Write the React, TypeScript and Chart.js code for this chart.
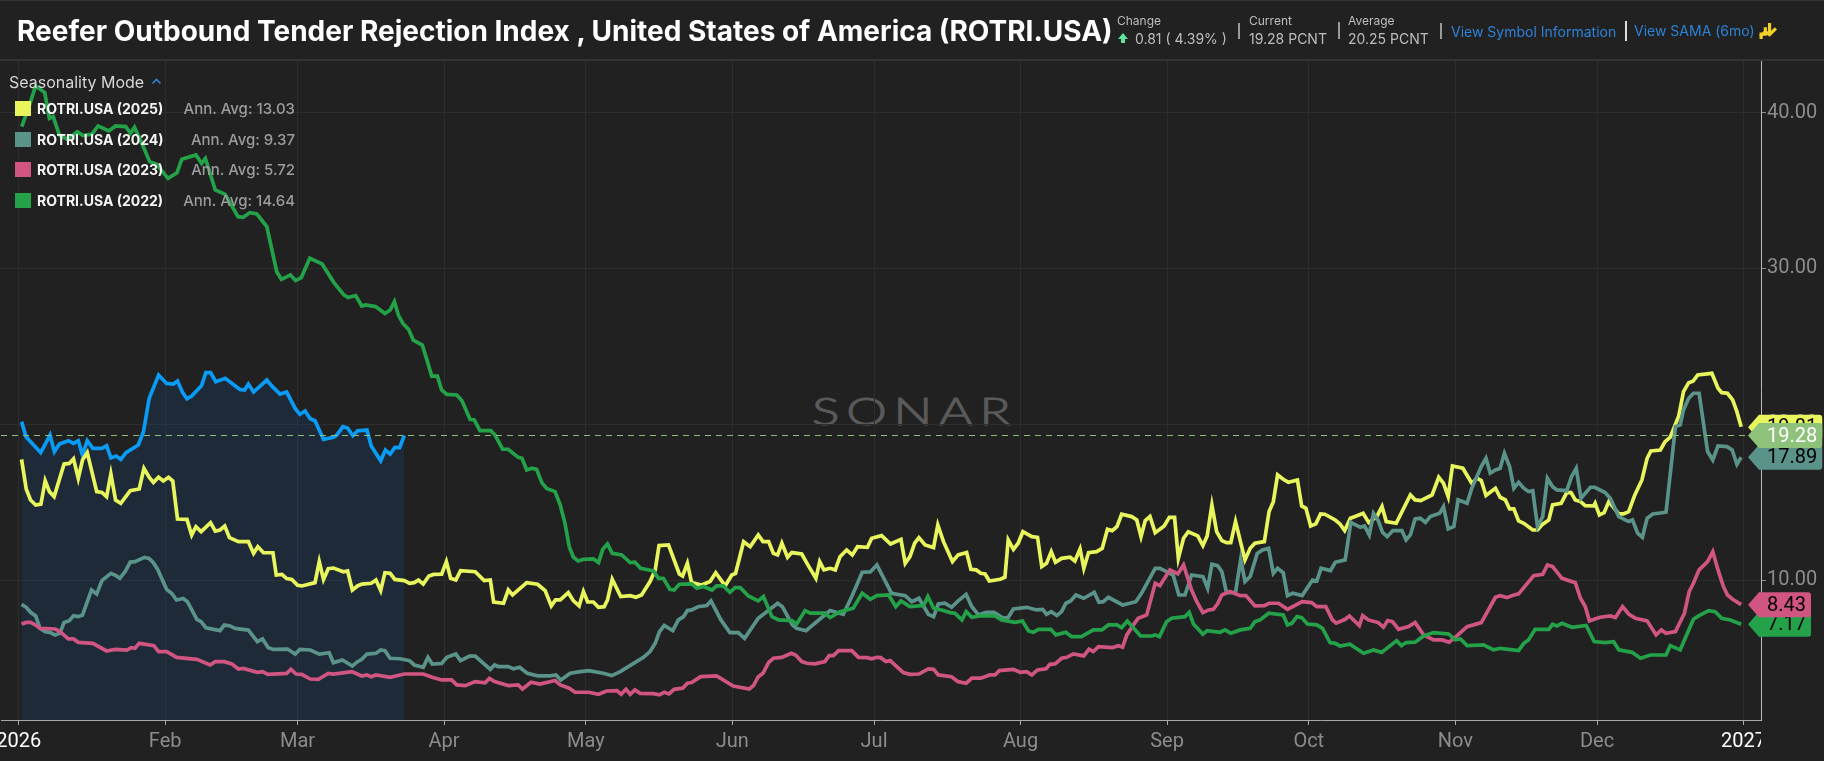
import React, { useEffect, useRef } from "react";
import { Chart, registerables } from "chart.js";

Chart.register(...registerables);

const monthDays = [0, 31, 59, 90, 120, 151, 181, 212, 243, 273, 304, 334, 365];
const monthLabels = ["2026", "Feb", "Mar", "Apr", "May", "Jun", "Jul", "Aug", "Sep", "Oct", "Nov", "Dec", "2027"];
const yTicks = [10, 20, 30, 40];

const days2026 = [0.6,1.55,4.66,6.63,7.55,8.6,10.5,11.6,12.6,13.5,14.5,15.7,17.6,18.6,19.5,20.6,21.6,22.7,25.3,26.4,27.6,29.6,31.3,32.7,33.6,34.7,35.6,36.6,38.7,39.6,40.6,41.7,43.7,46.8,47.8,48.6,49.7,52.5,53.5,55.3,56.7,58.5,59.5,60.6,61.7,62.7,64.5,66.6,67.3,68.6,69.6,70.7,71.7,73.7,74.6,76.6,77.6,78.6,79.6,80.6,81.6];
const values2026 = [20.17,19.2,18.18,19.31,18.24,18.73,18.95,18.78,18.95,18.03,18.95,18.46,18.46,18.63,17.84,17.96,17.75,18.18,18.67,19.52,21.66,23.16,22.62,22.58,22.77,22.03,21.64,21.81,22.48,23.31,23.31,22.73,22.95,22.24,22.2,22.58,22.07,22.84,22.48,21.94,22.07,21.02,20.64,20.85,20.36,20.23,19.03,19.16,19.31,19.85,19.76,19.27,19.59,19.63,18.6,17.66,18.35,18.09,18.52,18.5,19.28];

const days2025 = [0.6,1.6,2.5,3.6,4.7,5.6,6.5,7.5,9.6,10.7,11.6,12.6,13.5,14.5,16.5,17.6,18.6,19.5,20.5,21.6,23.6,25.5,26.5,27.6,28.5,29.6,30.6,31.7,32.6,33.6,35.6,36.6,37.5,38.6,40.6,41.6,42.6,43.6,44.6,46.5,48.6,49.7,50.6,51.8,53.8,54.5,55.7,56.7,57.8,59,59.9,62.7,63.6,64.5,65.5,66.6,68.7,69.6,70.6,71.7,72.6,74.6,75.6,76.6,77.5,78.6,79.6,81.6,82.7,83.7,84.6,85.6,86.8,87.8,89.5,90.5,91.4,92.5,93.5,96.6,98.5,99.8,100.5,102.6,103.6,104.5,107.5,109.8,111.4,112.7,113.6,114.6,116.3,117.4,118.6,119.5,120.4,121.6,122.7,123.9,124.6,125.6,127.4,129.4,130.6,131.8,133.6,134.7,135.5,137.5,139.8,140.5,141.5,142.4,144.5,146.3,147.5,149.5,150.9,151.7,153.4,154.8,156.5,157.5,158.7,159.7,160.6,161.5,162.7,163.6,165.7,167,168.7,169.5,170.4,171.7,172.8,173.8,175.2,176.4,177.5,179.6,180.5,182.6,184.5,186.7,187.6,188.6,189.6,190.5,191.8,193.6,194.5,195.7,197.6,198.8,200.6,201.5,202.6,203.6,204.5,205.4,207.7,208.7,209.4,210.5,211.5,212.5,214.4,215.6,216.5,217.5,218.5,219.4,220.7,222.5,223.5,224.6,225.4,226.4,228.1,229.3,230.4,231.4,232.4,233.4,235.5,236.6,237.5,238.4,239.4,240.5,242.4,243.5,244.6,245.4,246.5,247.5,249.5,250.6,251.5,252.5,253.5,254.6,255.6,256.5,257.5,259.5,260.6,261.6,263.6,264.6,265.5,266.4,267.6,268.7,270.6,271.5,272.4,273.4,274.5,275.5,276.4,278.6,279.6,280.6,281.8,282.8,284.5,285.7,287.4,288.5,289.4,291.5,294.5,295.5,296.7,299.1,300.5,301.5,302.5,303.4,305.6,307.5,308.6,309.5,310.5,312.5,313.5,314.6,315.5,316.4,317.4,318.5,320.4,321.4,322.3,323.8,324.6,326.4,327.6,328.5,329.4,330.5,331.5,333.3,333.6,334.5,335.5,336.5,338.6,339.6,340.7,342,343.5,344.6,345.4,347.4,348.4,349.5,351.3,352.3,353.4,354.3,355.3,358.3,359.6,360.4,361.6,362.7,363.6,364.5];
const values2025 = [17.75,15.83,15.14,14.82,14.88,16.38,15.68,15.36,17.45,17.49,17.79,16.53,17.71,18.18,15.68,15.63,15.36,16.81,15.14,14.93,15.74,15.85,17.17,16.6,16.27,16.6,16.36,16.6,16.36,13.92,13.9,12.9,13.43,13.11,13.69,13.15,13.22,13.47,12.73,12.47,12.47,11.72,12.15,11.76,11.76,10.33,10.37,10.1,10.05,9.67,9.63,9.84,11.19,10.05,10.74,10.78,10.54,10.59,9.37,9.63,9.75,9.8,10.01,9.33,10.48,10.44,10.05,9.97,9.8,9.84,10.01,9.75,10.27,10.37,10.39,11.19,10.12,10.01,10.61,10.54,9.97,10.01,8.6,8.52,9.37,9.05,9.84,9.74,9.33,8.35,8.73,8.73,9.2,8.67,8.35,9.27,8.6,8.6,8.26,8.3,8.73,10.06,8.95,9.01,8.9,9.05,9.91,10.66,12.22,12.26,10.4,10.27,11.08,9.84,9.69,9.91,10.48,9.63,10.33,10.44,12.47,12.15,12.9,12.47,12.47,11.72,11.62,12.37,11.47,11.77,11.68,10.98,10.12,11.19,10.66,10.76,10.66,11.51,11.94,11.62,12.15,12.11,12.69,12.86,12.32,12.62,11.08,11.51,12.37,12.73,12.26,12.09,13.54,12.47,11.19,11.62,11.77,10.7,10.66,10.44,10.4,9.95,10.06,10.19,12.58,11.98,12.37,13.11,12.79,12.75,10.87,11.08,11.83,11.15,11.4,11.47,11.23,12,10.76,11.77,11.83,12.05,13.26,13.18,13.44,14.23,14.08,13.86,12.79,13.82,14.08,13.05,13.48,14.03,14.03,11.4,12.69,13.11,12.84,12.22,12.84,14.82,13.11,12.54,12.41,12.41,13.76,11.3,12.05,12.37,12.47,14.4,15.04,16.75,16.47,16.28,16.43,14.76,14.61,13.48,13.61,14.25,14.23,13.86,13.61,13.18,13.97,14.08,14.29,13.69,14.08,14.72,13.76,13.65,15.47,15.15,15.1,15.47,16.6,16.22,15.36,17.33,17.18,16.22,16.54,16.39,15.43,15.9,15.32,15.15,14.57,14.57,13.8,13.65,13.22,13.22,13.54,13.86,14.83,14.93,15.62,15.62,15.15,15.04,14.78,14.76,14.93,14.18,14.33,15.04,14.25,14.25,14.4,15.47,16.43,17.82,18.29,18.35,18.89,19.17,20.54,22.1,22.67,22.76,23.16,23.27,22.31,22.03,21.99,21.56,20.81,19.85];

const days2024 = [0.6,1.6,2.5,3.6,4.5,5.6,6.6,7.7,8.7,9.6,10.7,11.6,12.6,13.5,15.4,16.5,17.6,19.5,20.6,21.4,22.5,23.6,24.6,26.6,27.6,28.5,29.4,31.3,32.4,33.4,34.8,35.7,37.7,38.6,39.6,42.6,43.5,44.6,45.8,48.6,50.5,51.6,52.8,53.9,56.9,58.5,59.5,61.7,63.6,65.7,66.6,68.5,70.6,71.7,72.6,73.7,75.6,76.6,77.5,78.6,80.7,82.7,83.7,85.6,86.6,87.5,89.5,90.6,92.5,93.5,95.4,96.6,99.8,100.7,101.5,103.6,104.7,106,107.6,109.8,112.4,113.7,114.7,116.7,118.8,120.6,123.7,125.5,127.3,132.2,133.6,134.7,135.6,136.6,138.4,139.6,140.7,141.5,142.4,143.8,145.6,146.5,148.6,150.5,152.3,153.6,156.5,160.6,161.6,163.7,164.6,166.6,171.7,174.5,176.3,178.5,180.2,181.6,184.7,187.6,189,190.5,192.5,193.6,194.6,196,197.4,198.8,200.5,201.7,203.1,204.7,206.4,208.4,209.4,210.5,213.3,215.4,216.7,217.5,218.5,219.7,220.7,221.6,222.6,223.7,225.4,227.6,228.6,229.5,230.6,233.6,236.4,237.6,240.5,241.5,242.9,244.3,245.5,246.8,248.2,250.6,251.6,252.5,253.7,254.6,255.6,257.5,258.6,259.5,260.6,262.1,263.2,264.5,265.5,266.4,267.6,268.5,269.6,271.6,273.8,274.7,275.6,277.6,278.6,280.7,281.9,283.9,284.8,285.8,286.7,287.7,288.6,289.6,290.8,292.7,293.6,294.5,295.5,296.6,297.7,298.7,300.7,301.5,302.5,303.7,304.6,306.5,307.5,309.5,310.5,311.4,312.5,313.5,314.4,315.5,316.4,317.4,318.5,319.5,320.4,321.4,322.5,323.5,324.6,325.5,327.6,328.6,329.6,330.6,332.6,333.5,335.7,336.8,338.6,340.7,341.5,342.6,343.6,344.6,345.8,348.6,350.6,351.6,352.3,353.4,354.4,355.6,357.4,358.5,359.6,361.5,362.6,363.6,364.5];
const values2024 = [8.45,8.26,7.94,7.7,6.91,6.7,6.65,6.48,6.59,7.29,7.4,7.72,7.66,7.76,9.37,9.11,9.97,10.44,10.29,10.12,10.54,11.16,11.19,11.46,11.4,11.12,10.69,9.41,9.15,8.73,8.83,8.62,7.49,7.34,6.95,6.76,7.12,7.08,6.91,6.8,6.05,6.23,5.67,5.56,5.58,5.26,5.56,5.52,5.26,5.35,4.71,4.88,4.49,4.77,4.92,5.26,5.31,5.52,5.48,4.99,4.96,4.84,4.56,4.41,5.05,4.62,4.66,5.05,5.26,4.84,5.13,5.13,4.28,4.56,4.46,4.46,4.31,4.41,4.03,3.86,3.86,3.92,3.6,4.03,4.13,4.2,4.03,3.88,4.13,5.05,5.42,5.95,6.7,7.09,6.76,7.45,7.66,8.05,8.09,8.3,8.37,8.67,7.45,6.64,6.64,6.27,7.56,8.52,8.3,7.13,6.91,6.76,8.05,7.81,8.95,10.51,10.53,10.98,9.16,9.01,8.62,8.84,7.81,7.66,8.47,8.52,8.26,8.67,9.09,8.3,7.77,7.94,7.94,7.56,7.62,8.15,8.26,8.09,8.13,7.81,7.98,7.73,7.98,8.52,8.67,9.05,8.84,9.22,8.58,8.62,8.9,8.41,8.62,9.16,10.76,10.76,10.55,10.33,9.05,9.05,10.33,10.23,9.48,11.02,10.93,10.55,9.2,9.22,11.34,9.91,10.23,11.72,11.94,12.05,10.44,10.76,10.48,9.01,9.16,9.01,10.01,9.95,10.76,10.61,11.15,11.3,13.71,13.39,13.48,12.9,14.29,13.82,13.07,12.79,13.18,13.18,12.58,12.9,13.93,13.97,13.71,14.08,14.29,14.72,13.29,13.44,15.15,14.93,15.9,17.29,17.82,16.86,17.07,17.18,18.14,17.29,15.9,16.28,15.9,15.68,15.74,13.44,14.08,16.54,16,15.79,15.74,16.64,17.18,15.25,15.96,15.96,15.62,15.25,14.08,13.76,13.86,13.01,12.75,13.97,14.25,14.36,19.85,19.96,20.92,21.67,21.99,21.99,18.25,17.71,18.61,18.57,18.35,17.43,17.89];

const days2023 = [0.6,1.6,2.5,3.6,4.5,7.7,8.6,10.5,11.6,12.6,15.7,18.6,20.4,22.9,23.8,24.6,25.5,28.6,29.6,31.3,33.4,37.7,40.5,41.6,43.5,45.1,46.5,47.5,50.5,51.6,52.7,56.7,57.6,58.7,59.9,61.7,63.4,65.5,66.6,70.5,72.6,73.7,74.6,75.6,78.6,81.6,85.6,87.5,89.5,91.6,92.7,94.5,96.6,98.7,99.6,100.7,103.6,105.7,106.6,108.4,110.3,113.5,114.6,116.5,117.7,120.6,122.7,124.4,126.6,127.5,128.5,129.4,130.4,131.5,134.3,135.6,136.6,137.6,138.7,140.5,141.5,142.4,144.3,147.7,151.2,154.6,155.5,156.5,157.5,158.7,159.7,161.5,163.5,164.4,165.7,166.8,168.5,170.6,171.5,172.4,173.5,176.3,177.7,179.5,180.5,181.6,182.4,183.5,184.4,187.2,188.6,190.5,192.5,193.6,194.6,197.4,198.8,200.5,201.7,203.6,205.5,206.6,207.5,210.5,211.9,213.3,214.4,215.6,217.4,218.2,219.3,220.7,221.8,223.2,225.4,226.5,227.4,228.5,231.4,232.7,233.6,234.5,235.9,236.9,238.7,240.5,241.5,243.6,245.3,246.5,248.2,249.3,250.6,251.8,252.8,253.7,254.6,256.3,258.5,259.7,261.6,263.6,264.6,266.6,268.5,271.6,273.6,274.7,276.6,278,278.8,280.7,281.6,283.7,284.4,285.6,287.7,288.8,289.7,290.7,292,294.1,295.5,297.3,299.4,301.2,302.7,304.4,306.5,309.5,312.5,313.5,314.9,316.4,317.4,320.6,322.5,323.5,324.6,326.6,329.4,330.5,331.5,332.4,334.7,336.8,337.9,339.4,340.7,342.1,344.6,346.5,347.6,348.6,350.6,352.5,353.5,354.4,355.6,357.4,358.5,359.6,360.7,361.6,362.7,364.5];
const values2023 = [7.19,7.29,7.29,7.12,6.91,6.87,6.74,6.23,6.23,6.01,5.95,5.46,5.56,5.52,5.67,5.63,5.95,5.8,5.41,5.41,5.05,4.92,4.56,4.77,4.77,4.62,4.3,4.34,4.09,4.13,3.96,4.02,4.28,3.98,3.96,3.66,3.64,4.02,3.98,4.13,3.85,3.92,3.81,3.92,3.77,3.98,3.98,3.77,3.6,3.6,3.28,3.23,3.49,3.42,3.7,3.49,3.24,3.28,3.02,3.45,3.34,3.56,3.28,3.07,2.81,2.81,2.68,2.89,2.92,2.68,3,2.68,2.96,2.74,2.72,2.64,2.81,2.7,3,3.07,3.39,3.43,3.81,3.86,3.21,3.02,3.24,3.81,4.03,4.73,4.99,5.05,5.31,5.2,4.78,4.67,4.63,4.78,5.16,5.16,5.48,5.48,5.05,5.03,4.95,5.05,5.03,4.78,4.84,4.07,3.96,3.98,4.31,4.28,3.92,3.81,3.49,3.39,3.71,3.71,3.92,3.92,4.2,4.28,4.09,4.13,3.92,4.24,4.31,4.6,4.63,4.99,5.05,5.27,5.14,5.57,5.42,5.74,5.67,5.8,5.7,6.49,7.13,7.56,7.77,9.8,9.65,10.66,10.4,10.98,9.37,8.62,7.92,8.09,8.13,8.48,9.05,9.27,9.01,9.01,8.35,8.37,8.52,8.52,8.13,8.62,8.56,8.3,8.3,7.45,7.24,7.49,7.71,7.09,7.73,7.45,7.28,6.98,7.41,7.34,6.85,7.02,7.28,6.49,6.17,6.17,6.02,6.44,7.02,7.28,8.9,9.01,8.88,9.05,9.12,10.29,10.38,10.98,10.87,10.12,9.84,8.84,8.31,7.39,7.62,7.71,7.6,8.31,7.83,7.56,7.39,6.49,6.81,6.59,6.7,7.88,9.27,9.8,10.66,11.19,11.83,10.66,9.63,9.05,8.78,8.43];

const days2022 = [0.64,2.3,3.57,5.5,6.5,7.3,8.6,10.3,12.4,13.6,15.5,16.8,19.05,20.5,22.65,23.65,24.5,26.6,27.7,29.1,31.6,33.5,34.5,37.5,38.7,39.5,41.6,43.7,46.4,47.5,48.9,50.4,52.5,54.6,55.6,57.5,58.6,59.8,61.6,64.2,66.7,68.8,69.7,71.3,72.6,73.4,75.5,77.5,78.6,79.5,80.35,81.3,82.5,83.5,85.4,86.4,87.4,88.6,89.5,90.6,92.7,93.8,95.5,96.4,97.6,99.9,100.8,102.4,103.6,105.7,106.5,107.5,108.6,109.6,110.7,111.7,113.5,114.6,115.6,116.5,117.4,118.4,119.5,121.6,122.7,123.6,124.6,125.6,127.6,129.4,130.4,131.6,134.3,135.4,136.4,137.8,138.7,139.8,142.4,143.5,144.9,146.7,147.7,149.1,150.5,151.6,152.7,154.4,156.5,157.6,159.4,160.8,163.6,164.6,166.4,167.5,170.6,171.7,173.8,176.6,178.5,180.2,181.6,184.1,185.6,186.7,188.6,191.5,192.4,193.6,195.7,197.1,198.1,199.6,200.5,201.7,203.6,206.6,208,210.8,212.4,213.7,214.7,215.8,218.4,219.5,221.6,222.8,224.9,227.4,229.2,230.6,232.4,233.4,234.6,237.4,239.8,240.5,241.4,242.9,244,246.8,247.7,248.6,250.6,251.5,254.2,255.3,256.5,258.5,260.6,261.6,262.7,264.5,267.6,268.5,269.4,270.5,271.5,272.7,274.7,275.9,277.5,278.6,279.6,281.7,284.6,286.7,288.4,291.6,292.6,293.6,295.5,297.3,299.4,302.6,304,305.1,306.5,310,312.1,313.5,317.4,318.5,319.5,320.9,323.8,324.6,325.5,326.6,328.7,331.7,333.4,335.7,337.5,338.6,341.4,343.2,345.3,348.6,349.5,351.6,354.4,355.5,357.6,359,360.4,362.2,364.5];
const values2022 = [39.1,40.49,41.7,41.28,39.63,39.74,38.56,38.28,38.77,38.52,38.62,39.14,38.82,39.14,39.1,38.67,39.05,37.64,36.85,36.7,35.78,36.14,37,37.28,36.74,37.06,35.03,34.75,33.32,33.28,33.58,33.49,32.68,29.79,29.3,29.58,29.22,29.41,30.65,30.29,29.09,28.3,28.13,28.26,27.59,27.66,27.55,27.11,27.33,27.86,27.01,26.47,26.09,25.4,25.08,24.12,23.09,23.09,22.2,21.92,21.88,21.51,20.32,20.28,19.59,19.59,19.31,18.4,18.4,17.88,17.82,17.07,17.18,17.11,16.26,15.89,15.68,14.82,13.65,12.15,11.47,11.23,11.34,11.36,11.13,11.98,12.32,11.72,11.62,11.13,11.15,10.76,10.59,10.12,10.12,9.42,9.37,9.74,9.76,9.48,9.59,9.37,9.63,9.63,9.22,9.52,9.52,8.99,8.67,8.95,7.66,7.45,7.41,7.17,8.05,7.88,7.88,7.6,7.98,8.2,9.16,8.77,9.01,9.05,8.3,8.67,8.3,8.37,8.95,8.2,8.05,7.92,7.88,7.45,7.98,7.62,7.73,7.71,7.45,7.3,7.38,6.74,6.66,6.85,6.85,6.49,6.66,6.38,6.38,6.81,6.81,7.13,7.13,6.96,7.38,6.42,6.42,6.49,6.38,7.34,7.56,7.66,7.94,7.19,6.53,6.76,6.66,6.81,6.59,6.81,6.91,7.34,7.45,7.88,7.77,7.13,7.23,7.66,7.6,7.19,7.13,6.91,6,5.95,5.78,5.89,5.31,5.52,5.37,6.12,5.8,6,6.02,6.42,6.64,6.55,6.17,6.23,5.8,5.85,5.53,5.63,5.48,5.95,6.17,6.85,6.85,7.17,7.06,7.23,6.98,7.09,6.06,6,6.06,5.53,5.37,4.99,5.2,5.2,5.8,5.53,7.49,7.71,8.05,7.98,7.56,7.45,7.17];

const currentValue = 19.28;
const legendRows = [
  { name: "ROTRI.USA (2025)", avg: "Ann. Avg: 13.03", color: "#e9f55d" },
  { name: "ROTRI.USA (2024)", avg: "Ann. Avg: 9.37", color: "#5a9389" },
  { name: "ROTRI.USA (2023)", avg: "Ann. Avg: 5.72", color: "#d05583" },
  { name: "ROTRI.USA (2022)", avg: "Ann. Avg: 14.64", color: "#24a249" },
];
const tags = [
  { value: 7.17, color: "#24a249", text: "#000000" },
  { value: 8.43, color: "#d05583", text: "#000000" },
  { value: 19.81, color: "#e9f55d", text: "#000000" },
  { value: 17.89, color: "#5a9389", text: "#000000" },
  { value: 19.28, color: "#8ec27a", text: "#ffffff" },
];

const BG = "#212121";
const toPoints = (xs: number[], ys: number[]) => xs.map((x, i) => ({ x, y: ys[i] }));

const tagPlugin = {
  id: "sideTags",
  afterDraw(chart: any) {
    const { ctx, scales } = chart;
    const area = chart.chartArea;
    ctx.save();
    // clip the year label at the value axis, as in the original
    ctx.fillStyle = BG;
    ctx.fillRect(area.right, area.bottom + 1, 70, 45);
    ctx.font = "20px Roboto";
    ctx.textBaseline = "middle";
    ctx.textAlign = "left";
    const textX = area.right + 6;
    for (const t of tags) {
      const y = scales.y.getPixelForValue(t.value);
      const label = t.value.toFixed(2);
      const right = textX + ctx.measureText(label).width + 5;
      const tip = area.right - 13;
      const left = area.right - 2;
      const h = 12.5;
      ctx.beginPath();
      ctx.moveTo(tip, y);
      ctx.lineTo(left, y - h);
      ctx.arcTo(right, y - h, right, y + h, 3);
      ctx.arcTo(right, y + h, left, y + h, 3);
      ctx.lineTo(left, y + h);
      ctx.closePath();
      ctx.fillStyle = t.color;
      ctx.fill();
      ctx.fillStyle = t.text;
      ctx.fillText(label, textX, y + 1);
    }
    ctx.restore();
  },
};

const Sep = ({ x, top, h, color = "#9a9a9a" }: { x: number; top: number; h: number; color?: string }) => (
  <div style={{ position: "absolute", left: x, top, width: 2, height: h, background: color }} />
);
const T = ({ x, y, size, color, weight = 400, children }: any) => (
  <div style={{ position: "absolute", left: x, top: y, fontSize: size, color, fontWeight: weight, lineHeight: "18px", whiteSpace: "nowrap" }}>{children}</div>
);

export default function App() {
  const ref = useRef<HTMLCanvasElement | null>(null);
  useEffect(() => {
    document.body.style.margin = "0";
    document.body.style.background = BG;
    const line = (label: string, xs: number[], ys: number[], color: string) => ({
      label,
      data: toPoints(xs, ys),
      borderColor: color,
      borderWidth: 3.7,
      pointRadius: 0,
      tension: 0,
      borderJoinStyle: "miter" as const,
      fill: false as any,
      backgroundColor: "transparent",
    });
    const chart = new Chart(ref.current as HTMLCanvasElement, {
      type: "line",
      plugins: [tagPlugin],
      data: {
        datasets: [
          {
            label: "Current",
            data: [{ x: -3.75, y: currentValue }, { x: 368.7, y: currentValue }],
            borderColor: "#8ec27a",
            borderWidth: 1,
            borderDash: [6, 5],
            pointRadius: 0,
          },
          line("2022", days2022, values2022, "#24a249"),
          line("2023", days2023, values2023, "#d05583"),
          line("2024", days2024, values2024, "#5a9389"),
          line("2025", days2025, values2025, "#e9f55d"),
          {
            ...line("2026", days2026, values2026, "#0a9cf5"),
            fill: "start",
            backgroundColor: "rgba(8,108,225,0.12)",
          },
        ],
      },
      options: {
        responsive: false,
        devicePixelRatio: 1,
        animation: false,
        layout: { padding: { left: 1, top: 60, right: 0, bottom: 0 } },
        plugins: {
          legend: { display: false },
          tooltip: { enabled: false },
          filler: { drawTime: "beforeDatasetsDraw" },
        },
        scales: {
          x: {
            type: "linear",
            min: -3.75,
            max: 368.7,
            afterBuildTicks: (s: any) => { s.ticks = monthDays.map((value) => ({ value })); },
            afterFit: (s: any) => { s.height = 41; s.paddingLeft = 0; s.paddingRight = 0; },
            grid: { color: "#2d2d2d", tickColor: "#a8a8a8", tickLength: 5, lineWidth: 1 },
            border: { color: "#a8a8a8" },
            ticks: {
              autoSkip: false,
              maxRotation: 0,
              padding: 5,
              font: { family: "Roboto", size: 20 },
              color: (c: any) => (c.tick.value === 0 || c.tick.value === 365 ? "#ffffff" : "#8c8c8c"),
              callback: (v: any) => monthLabels[monthDays.indexOf(Number(v))] ?? "",
            },
          },
          y: {
            type: "linear",
            position: "right",
            min: 1.03,
            max: 43.37,
            afterBuildTicks: (s: any) => { s.ticks = yTicks.map((value) => ({ value })); },
            afterFit: (s: any) => { s.width = 63; s.paddingTop = 0; s.paddingBottom = 0; },
            grid: { color: "#2d2d2d", tickColor: "#8c8c8c", tickLength: 5, lineWidth: 1 },
            border: { color: "#bdbdbd" },
            ticks: {
              padding: 1,
              font: { family: "Roboto", size: 20 },
              color: "#8c8c8c",
              callback: (v: any) => Number(v).toFixed(2),
            },
          },
        },
      } as any,
    });
    return () => chart.destroy();
  }, []);

  return (
    <div style={{ position: "absolute", left: 0, top: 0, width: 1824, height: 761, background: BG, overflow: "hidden", fontFamily: "Inter, sans-serif" }}>
      <div style={{ position: "absolute", left: 812, top: 391, fontFamily: "Lato, sans-serif", fontWeight: 300, fontSize: 38, lineHeight: "38px", letterSpacing: 5, color: "#5a5a5a", WebkitTextStroke: "1px #5a5a5a", transform: "scaleX(1.35)", transformOrigin: "left top", whiteSpace: "nowrap" }}>SONAR</div>
      <canvas ref={ref} width={1824} height={761} style={{ position: "absolute", left: 0, top: 0, display: "block" }} />

      <div style={{ position: "absolute", left: 0, top: 0, width: 1824, height: 1, background: "#333" }} />
      <div style={{ position: "absolute", left: 0, top: 59, width: 1824, height: 2, background: "#333" }} />
      <div style={{ position: "absolute", left: 17, top: 15, fontSize: 28, lineHeight: "32px", fontWeight: 700, color: "#ffffff", whiteSpace: "nowrap" }}>
        Reefer Outbound Tender Rejection Index , United States of America (ROTRI.USA)
      </div>

      <T x={1117} y={12} size={12} color="#bdbdbd">Change</T>
      <div style={{ position: "absolute", left: 1118, top: 33, width: 0, height: 0, borderLeft: "5px solid transparent", borderRight: "5px solid transparent", borderBottom: "6px solid #5fe39a" }} />
      <div style={{ position: "absolute", left: 1121, top: 38, width: 4, height: 5, background: "#5fe39a" }} />
      <T x={1135} y={30} size={14} color="#bdbdbd">0.81 ( 4.39% )</T>
      <Sep x={1238} top={23} h={16} />
      <T x={1249} y={12} size={12} color="#bdbdbd">Current</T>
      <T x={1249} y={30} size={14} color="#bdbdbd">19.28 PCNT</T>
      <Sep x={1338} top={22} h={17} />
      <T x={1348} y={12} size={12} color="#bdbdbd">Average</T>
      <T x={1348} y={30} size={14} color="#bdbdbd">20.25 PCNT</T>
      <Sep x={1440} top={23} h={16} />
      <T x={1451} y={23} size={14} color="#2d82d8">View Symbol Information</T>
      <Sep x={1625} top={21} h={20} color="#dddddd" />
      <T x={1634} y={22} size={14} color="#2d82d8">View SAMA (6mo)</T>
      <svg style={{ position: "absolute", left: 1759, top: 22 }} width={19} height={19} viewBox="0 0 18 18">
        <path d="M2 16 L2 10 M6 13 L6 5 M10 10 L10 1 M1 14 L6 9 L10 12 L16 6" stroke="#f2d024" strokeWidth={3} fill="none" />
      </svg>

      <T x={9} y={73} size={16} color="#d6d6d6">Seasonality Mode</T>
      <svg style={{ position: "absolute", left: 151, top: 78 }} width={11} height={7} viewBox="0 0 11 7">
        <path d="M1.5 5.5 L5.5 1.5 L9.5 5.5" stroke="#2d82d8" strokeWidth={1.6} fill="none" />
      </svg>
      {legendRows.map((r, i) => {
        const cy = [108.5, 139.5, 169.5, 200.5][i];
        return (
          <React.Fragment key={r.name}>
            <div style={{ position: "absolute", left: 15, top: cy - 7.5, width: 16, height: 15, background: r.color }} />
            <T x={37} y={cy - 9} size={14} weight={700} color="#f4f4f4">{r.name}</T>
            <div style={{ position: "absolute", right: 1824 - 295, top: cy - 9, fontSize: 15, fontWeight: 500, lineHeight: "18px", color: "#9c9c9c", whiteSpace: "nowrap" }}>{r.avg}</div>
          </React.Fragment>
        );
      })}
    </div>
  );
}
